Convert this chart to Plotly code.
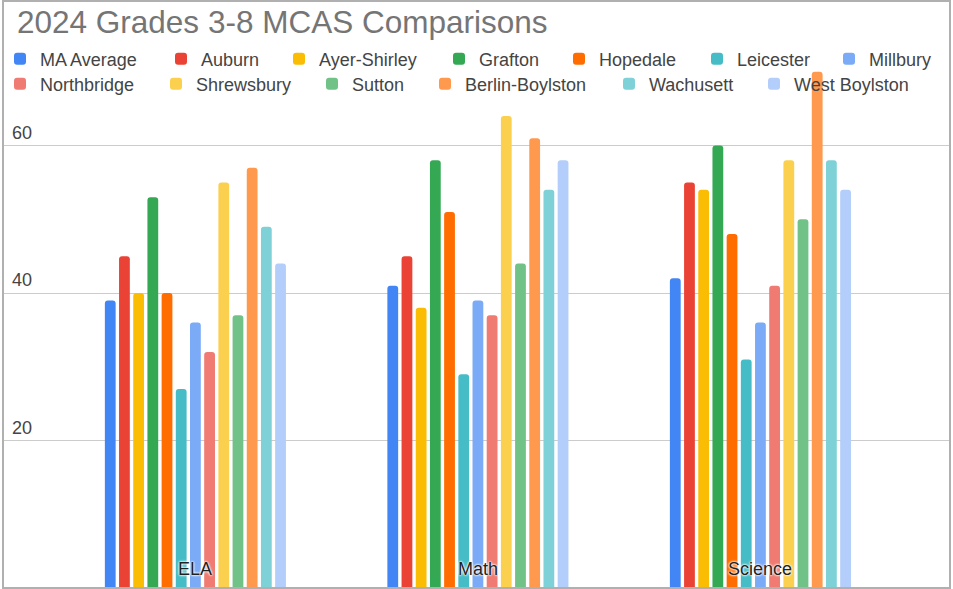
import plotly.graph_objects as go

categories = ["ELA", "Math", "Science"]
schools = ["MA Average", "Auburn", "Ayer-Shirley", "Grafton", "Hopedale", "Leicester",
           "Millbury", "Northbridge", "Shrewsbury", "Sutton", "Berlin-Boylston",
           "Wachusett", "West Boylston"]
colors = ["#4285F4", "#EA4335", "#FBBC04", "#34A853", "#FF6D01", "#46BDC6",
          "#7BAAF7", "#F07B72", "#FCD04F", "#71C287", "#FF994D", "#7ED1D7", "#B3CEFB"]

ela = [39, 45, 40, 53, 40, 27, 36, 32, 55, 37, 57, 49, 44]
math = [41, 45, 38, 58, 51, 29, 39, 37, 64, 44, 61, 54, 58]
science = [42, 55, 54, 60, 48, 31, 36, 41, 58, 50, 70, 58, 54]

y_ticks = [20, 40, 60]

# legend text start (px) and row for each entry, as in the reference layout
legend_text_x = [41, 202, 320, 480, 600, 738, 870, 41, 197, 353, 466, 650, 795]
legend_row_y = [59] * 7 + [84] * 6

W, H = 953, 589
fig = go.Figure()
layout_legends = {}
for i, name in enumerate(schools):
    lname = "legend" if i == 0 else f"legend{i+1}"
    fig.add_trace(go.Bar(
        name=name, x=categories, y=[ela[i], math[i], science[i]],
        marker=dict(color=colors[i], line=dict(width=0)),
        legend=lname, showlegend=True,
    ))
    layout_legends[lname] = dict(
        xref="container", yref="container",
        x=max(legend_text_x[i] - 41, 0) / W, xanchor="left",
        y=1 - legend_row_y[i] / H, yanchor="middle",
        bgcolor="rgba(0,0,0,0)", borderwidth=0,
        font=dict(family="Arial, Liberation Sans, sans-serif", size=18, color="#444444"),
        orientation="h", visible=True,
    )

for c in categories:
    fig.add_annotation(
        x=c, xref="x", y=0, yref="paper", yanchor="bottom", yshift=7,
        text=c, showarrow=False,
        font=dict(family="Arial, Liberation Sans, sans-serif", size=18, color="#222222",
                  shadow="0 0 2px white, 0 0 2px white, 0 0 3px white"),
    )

fig.update_layout(
    width=W, height=H, showlegend=True,
    margin=dict(l=3, r=3, t=1, b=1, autoexpand=False),
    paper_bgcolor="white", plot_bgcolor="white",
    barmode="group", bargap=0.347, bargroupgap=0.24, barcornerradius=3,
    title=dict(text="2024 Grades 3-8 MCAS Comparisons",
               xref="container", yref="container",
               x=17 / W, xanchor="left", y=1 - 22 / H, yanchor="middle",
               font=dict(family="Arial, Liberation Sans, sans-serif", size=31.5, color="#757575")),
    xaxis=dict(range=[-0.681, 2.671], showticklabels=False, showgrid=False,
               zeroline=False, showline=False, ticks=""),
    yaxis=dict(range=[0, 79.6], tickvals=y_ticks, ticklabelposition="inside",
               ticklabelstandoff=6, ticklabelshift=-13,
               tickfont=dict(family="Arial, Liberation Sans, sans-serif", size=18, color="#444444"),
               showgrid=True, gridcolor="#cccccc", gridwidth=1,
               zeroline=True, zerolinecolor="#999999", zerolinewidth=2,
               showline=False, ticks=""),
    **layout_legends,
)

fig.add_shape(type="rect", xref="paper", yref="paper", x0=0, x1=1, y0=0, y1=1,
              line=dict(color="#b0b0b0", width=2), fillcolor="rgba(0,0,0,0)", layer="above")

fig.write_html("out.html", config={"displayModeBar": False},
               post_script="document.body.style.margin='0';")
